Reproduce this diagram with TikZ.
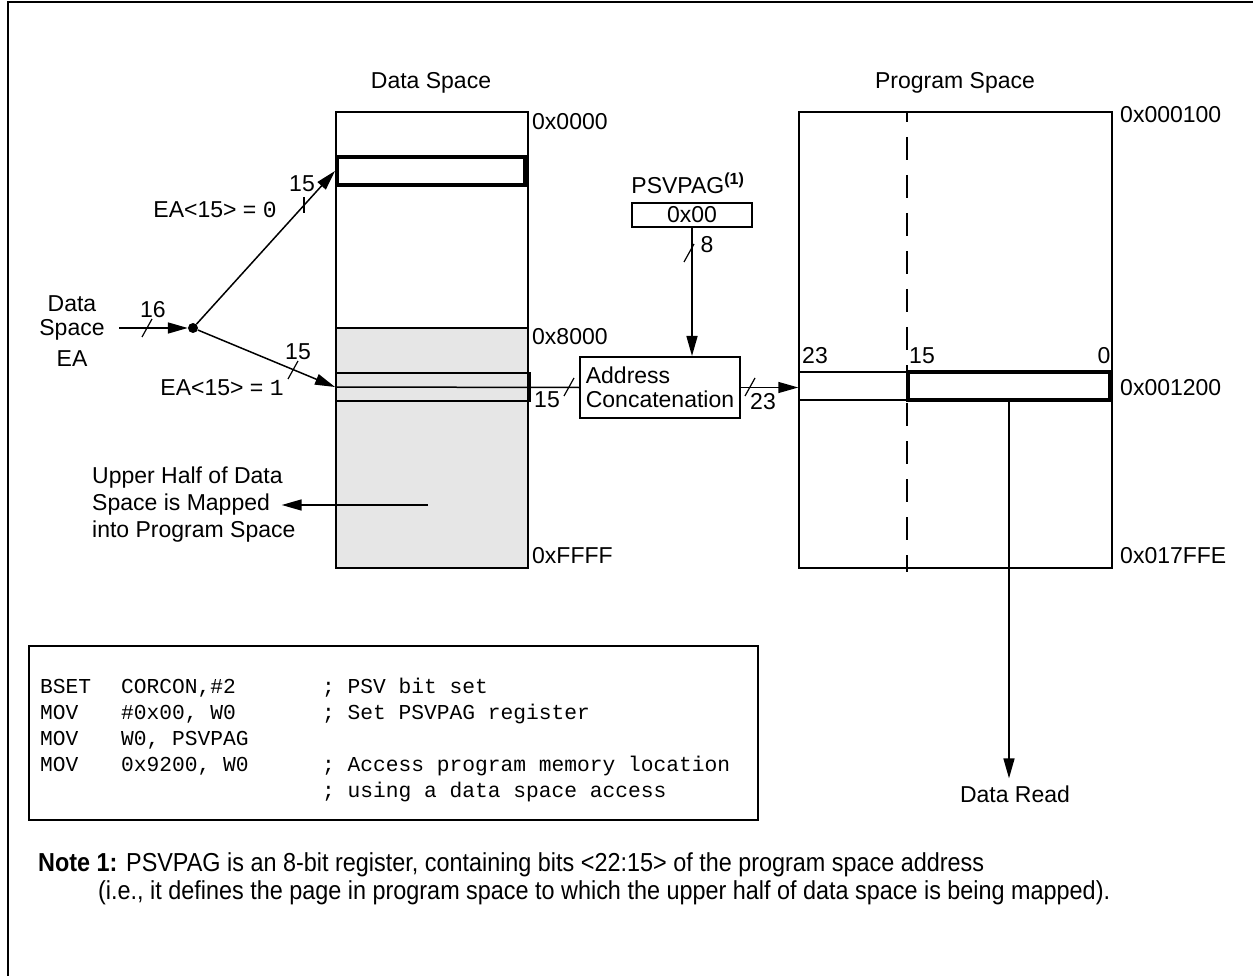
\documentclass[tikz,border=0pt]{standalone}
\usepackage{fontspec}
\setmainfont{Liberation Sans}
\setmonofont{Liberation Mono}
\newfontfamily\narrowfont[FakeStretch=0.9]{Liberation Sans}
\usetikzlibrary{arrows.meta,positioning}
\definecolor{memgray}{HTML}{E6E6E6}
\tikzset{
	lbl/.style={font=\fontsize{23}{24}\selectfont, inner sep=0pt},
	addr/.style={lbl, anchor=west},
	conn/.style={line width=1.5pt},
	arr/.style={conn, -{Triangle[length=20pt,width=11pt]}},
	membox/.style={draw, line width=2pt, inner sep=0pt},
	memrow/.style={draw, line width=4pt, inner sep=0pt, minimum height=28pt},
	bustick/.style={line width=1.2pt},
	codeline/.style={font=\ttfamily\fontsize{21.25}{24}\selectfont, inner sep=0pt, anchor=base west},
	notetext/.style={font=\narrowfont\fontsize{26}{28}\selectfont, inner sep=0pt, anchor=base west}
}
\begin{document}
\begin{tikzpicture}[x=1pt,y=-1pt]
	\useasboundingbox (0,0) rectangle (1253,976);
	\draw[line width=2.5pt] (8,990) -- (8,2) -- (1265,2);

	\node[lbl] (dstitle) at (431,83) {Data Space};
	\node[lbl] (pstitle) at (955,83) {Program Space};

	\fill[memgray] (336,328) rectangle (528,568);
	\node[membox, minimum width=192pt, minimum height=456pt] (ds) at (432,340) {};
	\draw[line width=2pt] (336,328) -- (528,328);
	\node[memrow, minimum width=188pt] (ds0) at (431,171) {};
	\node[membox, minimum width=194pt, minimum height=28pt] (dsrow) at (433,387) {};
	\node[addr] (a0000) at (532,122) {0x0000};
	\node[addr] (a8000) at (532,337) {0x8000};
	\node[addr] (affff) at (532,556) {0xFFFF};

	\node[lbl, align=center] (ea) at (72,331) {Data\\Space\\[7pt]EA};
	\coordinate (ein) at (119,328);
	\node[circle, fill, inner sep=0pt, minimum size=10pt] (dot) at (193,328) {};
	\draw[arr] (ein) -- (dot);
	\draw[arr] (dot) -- (ds0.west);
	\draw[arr] (dot) -- (dsrow.west);
	\draw[bustick] (142,337) -- (152,319);
	\draw[bustick] (304,197) -- (304,213);
	\draw[bustick] (288,379) -- (298,361);
	\node[lbl] (w16) at (153,310) {16};
	\node[lbl] (w15a) at (302,184) {15};
	\node[lbl] (w15b) at (298,352) {15};
	\node[lbl] (ea0) at (215,210) {EA<15> = \texttt{0}};
	\node[lbl] (ea1) at (222,388) {EA<15> = \texttt{1}};

	\node[lbl, align=left, anchor=west, font=\fontsize{23}{27}\selectfont] (uptxt) at (92,505) {Upper Half of Data\\Space is Mapped\\into Program Space};
	\coordinate (upsrc) at (428,505);
	\draw[arr, shorten >=-14pt] (upsrc) -- (uptxt.east);

	\node[lbl] (psvpag) at (688,183) {PSVPAG\textsuperscript{\textbf{(1)}}};
	\node[membox, lbl, minimum width=120pt, minimum height=24pt] (reg) at (692,215) {0x00};
	\node[membox, lbl, minimum width=160pt, minimum height=61pt, align=left] (cat) at (660,387.5) {Address\\Concatenation};
	\draw[arr] (reg.south) -- (cat.north -| reg.south);
	\draw[bustick] (684,262) -- (694,244);
	\node[lbl] (w8) at (707,245) {8};
	\draw[conn] (dsrow.west) -- (cat.west);
	\draw[bustick] (564,396) -- (574,378);
	\node[lbl] (w15c) at (547,400) {15};

	\node[membox, minimum width=313pt, minimum height=456pt] (ps) at (955.5,340) {};
	\draw[line width=2pt, dash pattern=on 23pt off 15pt, dash phase=13pt] (907,112) -- (907,572);
	\node[draw, line width=1.5pt, minimum width=313pt, minimum height=28pt, inner sep=0pt] (psrow) at (955.5,386) {};
	\node[memrow, minimum width=202pt] (psword) at (1009,386) {};
	\draw[arr] (cat.east) -- (cat.east -| psrow.west);
	\draw[bustick] (745,396) -- (755,378);
	\node[lbl] (w23) at (763,402) {23};
	\node[lbl] (b23) at (815,356) {23};
	\node[lbl] (b15) at (922,356) {15};
	\node[lbl] (b0) at (1104,356) {0};
	\node[addr] (a100) at (1120,115) {0x000100};
	\node[addr] (a1200) at (1120,388) {0x001200};
	\node[addr] (a7ffe) at (1120,556) {0x017FFE};
	\node[lbl] (rd) at (1015,794) {Data Read};
	\draw[arr, shorten >=7pt] (psword.south) -- (rd.north -| psword.south);

	\node[membox, minimum width=729pt, minimum height=174pt, anchor=north west] (code) at (28,645) {};
	\foreach \y/\op/\arg/\cmt in {693/BSET/{CORCON,\#2}/{; PSV bit set},
		719/MOV/{\#0x00, W0}/{; Set PSVPAG register},
		745/MOV/{W0, PSVPAG}/{},
		771/MOV/{0x9200, W0}/{; Access program memory location},
		797/{}/{}/{; using a data space access}}{
		\node[codeline] (op\y) at (40,\y) {\op};
		\node[codeline] (arg\y) at (121,\y) {\arg};
		\node[codeline] (cmt\y) at (322,\y) {\cmt};
	}

	\node[notetext] (note1) at (38,871) {\textbf{Note 1:} PSVPAG is an 8-bit register, containing bits <22:15> of the program space address};
	\node[notetext] (note2) at (98,899) {(i.e., it defines the page in program space to which the upper half of data space is being mapped).};
\end{tikzpicture}
\end{document}
